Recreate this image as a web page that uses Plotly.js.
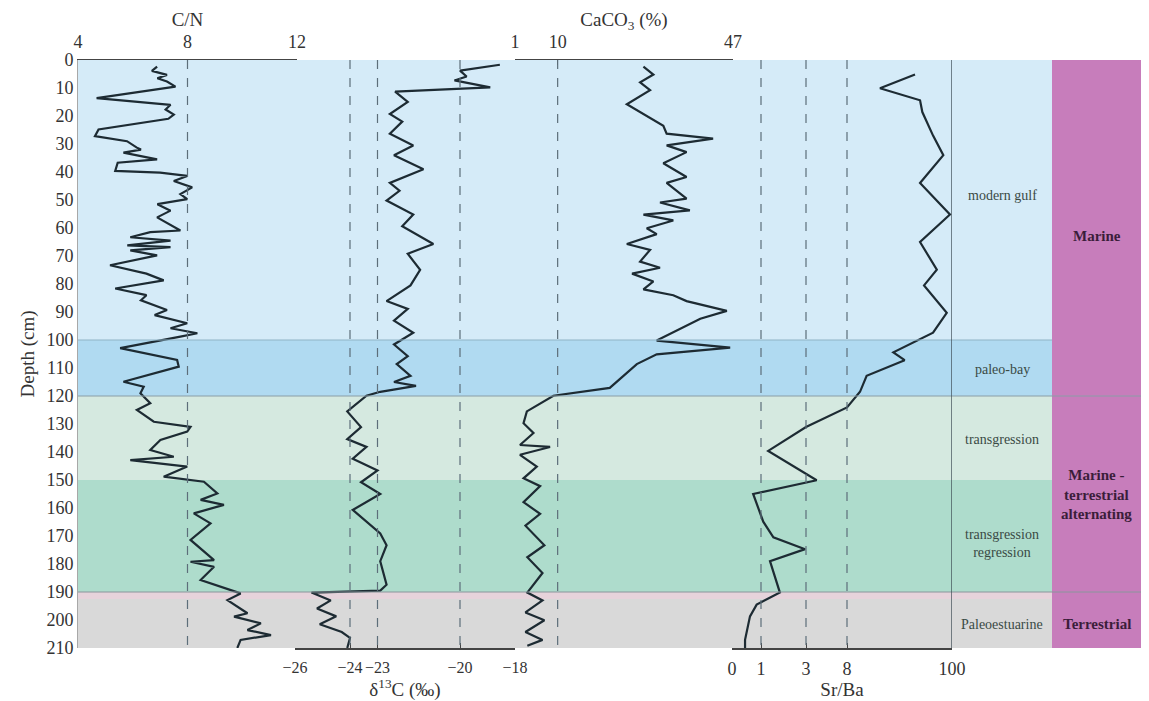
<!DOCTYPE html>
<html>
<head>
<meta charset="utf-8">
<script src="https://cdn.plot.ly/plotly-3.0.1.min.js"></script>
<style>html,body{margin:0;padding:0;background:#fff;}#chart{width:1149px;height:701px;}</style>
</head>
<body>
<div id="chart"></div>
<script>
// ---------------- data ----------------
const depthTicks = [0,10,20,30,40,50,60,70,80,90,100,110,120,130,140,150,160,170,180,190,200,210];

const cnDepth = [2.4,3.9,5.3,6.5,7.7,9.5,13.6,16.0,17.7,19.5,21.0,24.8,27.2,29.0,31.3,32.0,33.1,35.5,36.7,39.6,40.2,41.4,43.2,45.5,47.9,49.7,51.5,53.8,56.2,60.9,61.5,63.3,64.5,66.2,66.8,68.0,69.8,73.3,76.3,78.7,81.6,84.0,85.8,89.3,91.1,94.0,95.8,97.6,98.8,102.9,107.1,109.5,114.9,116.7,119.0,122.6,125.0,129.2,131.0,132.7,135.7,139.3,141.7,142.9,145.2,148.8,150.6,154.8,157.1,158.9,161.9,165.5,171.4,178.6,179.2,181.0,185.7,190.5,192.9,197.6,198.8,201.2,203.6,205.4,207.1,210.0];
const cnValue = [6.89,6.70,7.25,6.90,7.25,7.56,4.68,7.38,7.20,7.50,7.30,4.75,4.62,5.79,6.15,6.30,5.66,6.89,5.45,5.36,7.00,7.99,7.50,8.17,7.74,7.99,6.90,7.38,6.89,7.74,6.64,5.91,7.38,5.80,7.38,5.91,6.89,5.17,6.50,7.13,5.36,6.50,6.30,7.25,6.80,7.99,7.38,8.36,7.74,5.54,7.62,7.68,5.66,6.40,6.28,6.64,6.15,6.77,8.11,7.99,7.01,6.64,7.50,5.91,7.99,7.13,8.60,9.09,8.48,9.33,8.23,8.84,8.11,8.97,8.11,8.97,8.48,9.94,9.46,10.19,9.70,10.68,10.19,11.05,9.94,9.82];

const d13cDepth = [1.7,3.8,5.9,7.3,9.8,11.3,15.0,19.3,22.0,26.3,30.5,34.0,39.0,43.9,46.7,50.2,55.2,59.4,65.7,69.2,74.9,80.5,86.1,88.9,93.1,97.4,101.6,105.8,108.6,112.8,115.0,116.4,118.5,119.9,125.5,131.1,135.4,138.2,142.4,146.6,150.8,155.0,160.7,164.9,169.1,173.3,179.0,187.4,189.5,190.2,193.0,195.9,198.7,201.5,204.3,206.4,210.0];
const d13cValue = [-18.55,-20.0,-19.76,-20.2,-18.9,-22.36,-21.9,-22.55,-22.1,-22.55,-21.7,-22.4,-21.33,-22.55,-22.2,-22.67,-21.7,-22.1,-20.97,-21.9,-21.45,-21.8,-22.67,-21.9,-22.4,-21.7,-22.4,-21.9,-22.3,-21.8,-22.4,-21.6,-22.9,-23.4,-24.1,-23.6,-24.1,-23.4,-23.9,-23.0,-23.6,-22.9,-23.9,-23.4,-22.9,-22.67,-22.9,-22.67,-22.9,-25.4,-24.7,-25.2,-24.5,-25.1,-24.3,-24.0,-24.1];

const caco3Depth = [2.4,5.2,8.0,10.8,15.8,18.6,23.5,26.3,28.1,30.5,32.9,36.9,41.8,43.9,49.5,50.9,53.7,55.2,57.3,60.1,62.2,65.7,67.8,72.0,74.2,76.3,79.1,81.9,84.0,86.1,89.6,92.4,96.0,100.2,102.7,105.1,108.6,117.1,119.9,125.5,129.7,133.2,137.5,138.2,141.0,145.2,149.4,152.2,157.9,162.1,166.3,173.3,177.6,183.2,190.2,193.0,197.3,200.1,204.3,207.1,209.2];
const caco3Value = [28.1,30.2,27.4,29.5,24.6,27.4,32.3,33.0,42.8,33.0,37.2,32.3,37.2,33.0,37.2,31.6,37.9,28.1,34.4,28.8,30.9,24.6,29.5,27.4,31.6,25.7,30.2,28.1,34.4,37.2,45.7,40.1,35.8,30.9,46.4,30.9,26.7,21.0,9.1,3.5,2.8,4.9,2.05,8.4,2.05,5.6,2.8,6.3,2.8,6.3,3.2,7.2,3.6,6.8,3.6,6.8,3.2,7.2,3.2,6.8,3.6];

const srbaDepth = [5.2,10.1,14.4,18.6,27.0,34.0,43.9,55.2,65.0,74.9,80.5,90.3,97.4,104.4,107.2,112.8,118.5,124.1,131.1,139.6,150.1,155.0,164.9,170.5,174.7,179.0,190.2,194.5,198.7,207.1,210.0];
const srbaValue = [67.6,36.9,72.0,74.0,83.4,92.4,72.0,98.2,72.0,86.7,75.5,95.4,83.4,48.6,58.5,25.2,19.4,8.0,3.0,1.32,4.3,0.73,1.1,1.55,2.96,1.4,1.84,0.85,0.62,0.45,0.45];

const cnTicks = [4,8,12];
const d13cTicks = [-26,-24,-23,-20,-18];
const caco3Ticks = [1,10,47];
const srbaTicks = [0,1,3,8,100];

// Sr/Ba scale: non-linear, piecewise between the printed ticks
const srbaScaleStops = [0,29,74,115,220];
function srbaScale(v){
  for(let i=0;i<srbaTicks.length-1;i++){
    const a=srbaTicks[i], b=srbaTicks[i+1];
    if(v<=b || i===srbaTicks.length-2){
      return srbaScaleStops[i] + (v-a)/(b-a)*(srbaScaleStops[i+1]-srbaScaleStops[i]);
    }
  }
}

const zones = [
  {from:0,   to:100, color:'#d5ebf8', label:'modern gulf', at:48.5},
  {from:100, to:120, color:'#b0daf1', label:'paleo-bay', at:110.5},
  {from:120, to:150, color:'#d5e9e0', label:'transgression', at:135.5},
  {from:150, to:190, color:'#aedccc', label:'transgression<br>regression', at:172.5},
  {from:190, to:210, color:'#d9d9d9', label:'Paleoestuarine', at:201.5}
];
const envs = [
  {label:'<b>Marine</b>', at:63},
  {label:'<b>Marine -<br>terrestrial<br>alternating</b>', at:155},
  {label:'<b>Terrestrial</b>', at:201.5}
];

// ---------------- layout helpers ----------------
const L=78, R=1141;
const pf = p => (p-L)/(R-L);
const lineCol = '#1d2b33';
const dashCol = '#5d6e7a';

function trackAxis(dom, range, side, tickvals, ticktext, title, fs){
  const top = side==='top';
  return {
    domain:[pf(dom[0]), pf(dom[1])], range:range, side:side, anchor:'y',
    tickmode:'array', tickvals:tickvals, ticktext:ticktext, tickangle:0,
    ticks:'inside', ticklen:5, tickcolor:'#444', tickwidth:1,
    ticklabelstandoff: top ? 3 : 4,
    showline:true, linecolor:'#444', linewidth:1.5,
    showgrid:false, zeroline:false, fixedrange:true,
    tickfont:{size:fs||18, color:'#333'},
    title:{text:title, font:{size:19, color:'#333'}, standoff: top ? 0 : 3}
  };
}

const traces = [
  {x:[null], y:[null], xaxis:'x', yaxis:'y', mode:'lines', hoverinfo:'skip'},
  {x:cnValue, y:cnDepth, xaxis:'x2', yaxis:'y', mode:'lines', line:{color:lineCol, width:2.2}},
  {x:d13cValue, y:d13cDepth, xaxis:'x3', yaxis:'y', mode:'lines', line:{color:lineCol, width:2.2}},
  {x:caco3Value, y:caco3Depth, xaxis:'x4', yaxis:'y', mode:'lines', line:{color:lineCol, width:2.2}},
  {x:srbaValue.map(srbaScale), y:srbaDepth, xaxis:'x5', yaxis:'y', mode:'lines', line:{color:lineCol, width:2.2}}
];

const shapes = [];
zones.forEach(z=>{
  shapes.push({type:'rect', xref:'paper', yref:'y', x0:0, x1:pf(1052), y0:z.from, y1:z.to, fillcolor:z.color, line:{width:0}, layer:'below'});
});
shapes.push({type:'rect', xref:'paper', yref:'y', x0:0, x1:pf(1052), y0:190, y1:192.5, fillcolor:'#e6d3db', line:{width:0}, layer:'below'});
shapes.push({type:'rect', xref:'paper', yref:'y', x0:pf(1052), x1:1, y0:0, y1:210, fillcolor:'#c77dbb', line:{width:0}, layer:'below'});
// zone boundaries
shapes.push({type:'line', xref:'paper', yref:'y', x0:0, x1:pf(1052), y0:100, y1:100, line:{color:'#8fb3c6', width:1}});
shapes.push({type:'line', xref:'paper', yref:'y', x0:0, x1:1, y0:120, y1:120, line:{color:'#8a9ea6', width:1}});
shapes.push({type:'line', xref:'paper', yref:'y', x0:0, x1:1, y0:190, y1:190, line:{color:'#8a969c', width:1}});
// reference lines
function vdash(xref, x){ shapes.push({type:'line', xref:xref, yref:'y', x0:x, x1:x, y0:0, y1:210, line:{color:dashCol, width:1.2, dash:'dash'}}); }
vdash('x2', 8);
[-24,-23,-20].forEach(v=>vdash('x3', v));
vdash('x4', 10);
[1,3,8].forEach(v=>vdash('x5', srbaScale(v)));
shapes.push({type:'line', xref:'x5', yref:'y', x0:srbaScale(100), x1:srbaScale(100), y0:0, y1:210, line:{color:'#3a4850', width:1.3}});

const annotations = [];
zones.forEach(z=>{
  annotations.push({xref:'paper', yref:'y', x:pf(1002), y:z.at, text:z.label, showarrow:false, font:{size:14, color:'#3a4a45'}, xanchor:'center', yanchor:'middle'});
});
envs.forEach(e=>{
  annotations.push({xref:'paper', yref:'y', x:pf(1096.5), y:e.at, text:e.label, showarrow:false, font:{size:15, color:'#3b1d3a'}, xanchor:'center', yanchor:'middle'});
});

const layout = {
  width:1149, height:701,
  margin:{l:78, r:8, t:60, b:53, pad:0},
  paper_bgcolor:'#ffffff', plot_bgcolor:'rgba(0,0,0,0)',
  showlegend:false,
  font:{family:'"Liberation Serif", "Times New Roman", serif', color:'#333', size:16},
  xaxis:{domain:[0,1], range:[0,1], visible:false, fixedrange:true},
  yaxis:{range:[210,0], tickmode:'array', tickvals:depthTicks, ticks:'', showline:true, linecolor:'#a8a8a8', linewidth:1,
         showgrid:false, zeroline:false, fixedrange:true, tickfont:{size:18, color:'#333'},
         title:{text:'Depth (cm)', font:{size:19, color:'#333'}, standoff:6}},
  xaxis2: trackAxis([78,297], [4,12], 'top', cnTicks, cnTicks.map(String), 'C/N'),
  xaxis3: trackAxis([295,515], [-26,-18], 'bottom', d13cTicks, d13cTicks.map(v=>'\u2212'+Math.abs(v)), '\u03b4<sup>13</sup>C (\u2030)', 16),
  xaxis4: trackAxis([515,733], [1,47], 'top', caco3Ticks, caco3Ticks.map(String), 'CaCO<sub>3</sub> (%)'),
  xaxis5: trackAxis([732,952], [0,220], 'bottom', srbaTicks.map(srbaScale), srbaTicks.map(String), 'Sr/Ba'),
  shapes:shapes,
  annotations:annotations
};

Plotly.newPlot('chart', traces, layout, {displayModeBar:false, staticPlot:true});
</script>
</body>
</html>
